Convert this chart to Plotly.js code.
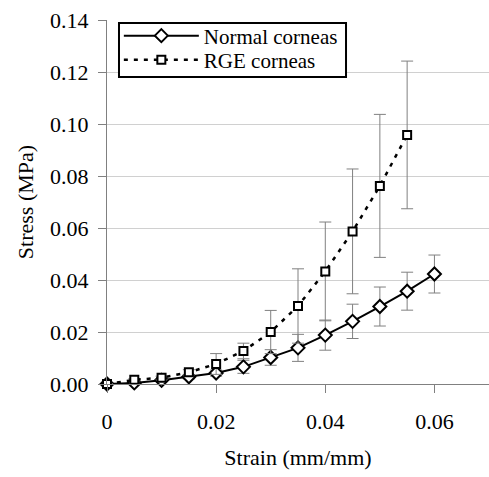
<!DOCTYPE html>
<html>
<head>
<meta charset="utf-8">
<script src="https://cdn.plot.ly/plotly-3.0.1.min.js"></script>
<style>html,body{margin:0;padding:0;background:#fff;}#chart{width:489px;height:477px;}</style>
</head>
<body>
<div id="chart"></div>
<script>
var normalStrain = [0, 0.005, 0.01, 0.015, 0.02, 0.025, 0.03, 0.035, 0.04, 0.045, 0.05, 0.055, 0.06];
var normalStress = [0, 0.0004, 0.0014, 0.0028, 0.0042, 0.0066, 0.0102, 0.0139, 0.0188, 0.0241, 0.0298, 0.0357, 0.0423];
var normalErr    = [0, 0.0003, 0.0005, 0.0008, 0.0012, 0.0025, 0.003, 0.0052, 0.0058, 0.0066, 0.0075, 0.0073, 0.0073];

var rgeStrain = [0, 0.005, 0.01, 0.015, 0.02, 0.025, 0.03, 0.035, 0.04, 0.045, 0.05, 0.055];
var rgeStress = [0, 0.0016, 0.0024, 0.0045, 0.0077, 0.0127, 0.0200, 0.0300, 0.0433, 0.0587, 0.0762, 0.0958];
var rgeErr    = [0, 0.0004, 0.0006, 0.001, 0.0040, 0.0030, 0.0083, 0.0143, 0.0190, 0.0240, 0.0275, 0.0284];

var xTickVals = [0, 0.02, 0.04, 0.06];
var xTickText = ['0', '0.02', '0.04', '0.06'];

var serif = 'Liberation Serif';

var traces = [
  {
    name: 'Normal corneas',
    x: normalStrain, y: normalStress,
    type: 'scatter', mode: 'lines+markers',
    legend: 'legend', cliponaxis: false,
    line: {color: '#000', width: 2},
    marker: {symbol: 'diamond', size: 10, color: '#fff', line: {color: '#000', width: 2}},
    error_y: {type: 'data', array: normalErr, visible: true, color: '#808080', thickness: 1, width: 6}
  },
  {
    name: 'RGE corneas',
    x: rgeStrain, y: rgeStress,
    type: 'scatter', mode: 'lines+markers',
    legend: 'legend2', cliponaxis: false,
    line: {color: '#000', width: 2.5, dash: '4px,6px'},
    marker: {symbol: 'square', size: 8, color: '#fff', line: {color: '#000', width: 2}},
    error_y: {type: 'data', array: rgeErr, visible: true, color: '#808080', thickness: 1, width: 6}
  }
];

var legendCommon = {
  x: 0.031, xanchor: 'left', yanchor: 'middle',
  bgcolor: 'rgba(0,0,0,0)', borderwidth: 0,
  font: {family: serif, size: 21, color: '#000'},
  itemwidth: 75
};

var layout = {
  width: 489, height: 477,
  margin: {l: 107, r: 0, t: 20, b: 93},
  paper_bgcolor: '#fff', plot_bgcolor: '#fff',
  font: {family: serif, size: 22, color: '#000'},
  showlegend: true,
  legend: Object.assign({}, legendCommon, {y: 0.956}),
  legend2: Object.assign({}, legendCommon, {y: 0.890}),
  shapes: [{
    type: 'rect', xref: 'paper', yref: 'paper', layer: 'above',
    x0: 0.0314, x1: 0.6257, y0: 0.8434, y1: 0.9918,
    fillcolor: '#fff', line: {color: '#000', width: 2}
  }],
  xaxis: {
    range: [0, 0.07],
    tickvals: xTickVals, ticktext: xTickText,
    ticks: 'outside', ticklen: 8, tickcolor: '#808080', tickwidth: 1,
    showgrid: false, zeroline: false,
    showline: true, linecolor: '#808080', linewidth: 1,
    ticklabelstandoff: 10,
    tickfont: {family: serif, size: 22, color: '#000'},
    title: {text: 'Strain (mm/mm)', font: {family: serif, size: 22, color: '#000'}, standoff: 16}
  },
  yaxis: {
    range: [0, 0.14], dtick: 0.02, tickformat: '.2f',
    ticks: 'outside', ticklen: 8, tickcolor: '#808080', tickwidth: 1,
    showgrid: true, gridcolor: '#d0d0d0', gridwidth: 1,
    zeroline: false,
    showline: true, linecolor: '#808080', linewidth: 1,
    ticklabelstandoff: 5,
    tickfont: {family: serif, size: 22, color: '#000'},
    title: {text: 'Stress (MPa)', font: {family: serif, size: 22, color: '#000'}, standoff: 10}
  }
};

Plotly.newPlot('chart', traces, layout, {displayModeBar: false, staticPlot: true});
</script>
</body>
</html>
